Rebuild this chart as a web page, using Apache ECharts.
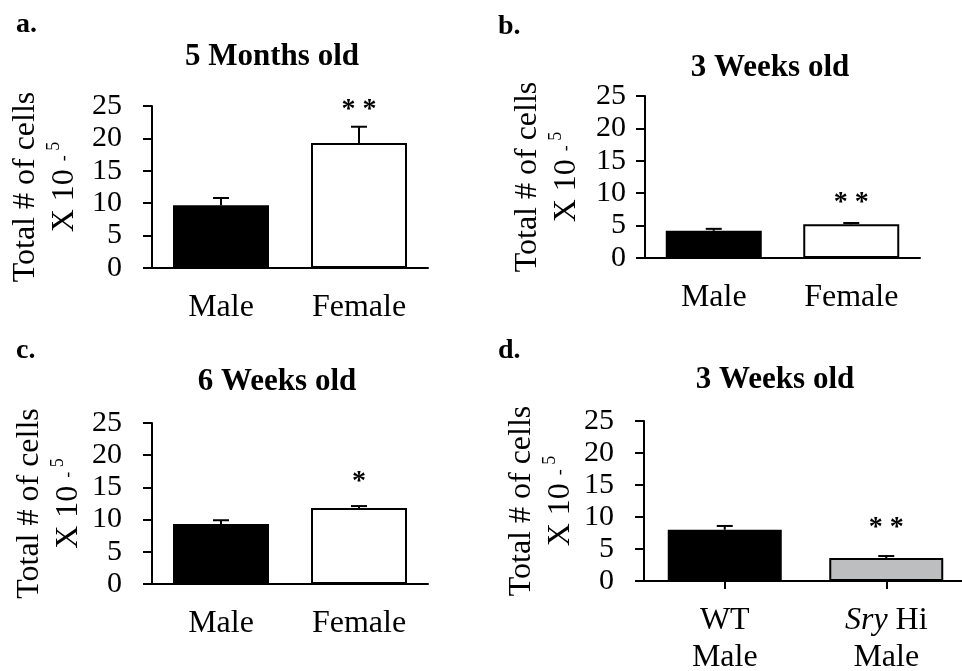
<!DOCTYPE html>
<html>
<head>
<meta charset="utf-8">
<script src="https://cdn.jsdelivr.net/npm/echarts@6/dist/echarts.min.js"></script>
<style>
  html, body { margin: 0; padding: 0; background: #fff; }
  #main { width: 962px; height: 671px; }
</style>
</head>
<body>
<div id="main"></div>
<script>
// panel data (cells x 10^-5)
const letters = ['a.', 'b.', 'c.', 'd.'];
const titles = ['5 Months old', '3 Weeks old', '6 Weeks old', '3 Weeks old'];
const catsSex = ['Male', 'Female'];
const catsSry = ['WT\nMale', 'Sry Hi\nMale'];
const yTicks = [0, 5, 10, 15, 20, 25];

const meanA = [9.7, 19.3];
const errA = [1.1, 2.5];
const sigA = ['', '* *'];

const meanB = [4.2, 5.2];
const errB = [0.3, 0.2];
const sigB = ['', '* *'];

const meanC = [9.3, 11.8];
const errC = [0.6, 0.3];
const sigC = ['', '*'];

const meanD = [8.0, 3.6];
const errD = [0.6, 0.3];
const sigD = ['', '* *'];

const FONT = 'Liberation Serif';
const chart = echarts.init(document.getElementById('main'), null, { renderer: 'canvas' });

// layout of each panel
const panels = [
  { cats: catsSex, mean: meanA, err: errA, sig: sigA, grid: { left: 152, top: 106, width: 276, height: 162 },
    fills: ['#000000', '#ffffff'], barWidth: 96, nameGap: 68, labelMargin: 30, ticks: false,
    title: [272, 41], letter: [16, 11], starGap: 3 },
  { cats: catsSex, mean: meanB, err: errB, sig: sigB, grid: { left: 645, top: 96, width: 275, height: 162 },
    fills: ['#000000', '#ffffff'], barWidth: 96, nameGap: 59, labelMargin: 19, ticks: false,
    title: [770, 52], letter: [498, 13], starGap: 6 },
  { cats: catsSex, mean: meanC, err: errC, sig: sigC, grid: { left: 152, top: 423, width: 276, height: 161 },
    fills: ['#000000', '#ffffff'], barWidth: 96, nameGap: 60, labelMargin: 30, ticks: false,
    title: [277, 366], letter: [16, 337], starGap: 10 },
  { cats: catsSry, mean: meanD, err: errD, sig: sigD, grid: { left: 644, top: 421, width: 323, height: 160 },
    fills: ['#000000', '#bcbec0'], barWidth: 114, nameGap: 54, labelMargin: 30, ticks: true,
    title: [775, 364], letter: [498, 337], starGap: 14 }
];

function errRenderer(sig, gap) {
  return function (params, api) {
    const i = api.value(0);
    const m = api.value(1);
    const e = api.value(2);
    const base = api.coord([i, m]);
    const top = api.coord([i, m + e]);
    const children = [
      { type: 'line', shape: { x1: base[0], y1: base[1], x2: top[0], y2: top[1] },
        style: { stroke: '#000', lineWidth: 2 } },
      { type: 'line', shape: { x1: top[0] - 8, y1: top[1], x2: top[0] + 8, y2: top[1] },
        style: { stroke: '#000', lineWidth: 2 } }
    ];
    if (sig[params.dataIndex]) {
      children.push({ type: 'text', x: top[0], y: top[1] - gap,
        style: { text: sig[params.dataIndex], fill: '#000', font: 'bold 28px ' + FONT,
          textAlign: 'center', textVerticalAlign: 'bottom' } });
    }
    return { type: 'group', children: children };
  };
}

const option = {
  backgroundColor: '#ffffff',
  animation: false,
  title: [],
  grid: [],
  xAxis: [],
  yAxis: [],
  series: []
};

panels.forEach((p, k) => {
  option.title.push({
    text: titles[k], left: p.title[0], top: p.title[1], textAlign: 'center', padding: 0,
    textStyle: { fontFamily: FONT, fontSize: 31, fontWeight: 'bold', color: '#000' }
  });
  option.title.push({
    text: letters[k], left: p.letter[0], top: p.letter[1], padding: 0,
    textStyle: { fontFamily: FONT, fontSize: 28, fontWeight: 'bold', color: '#000' }
  });
  option.grid.push(Object.assign({ outerBoundsMode: 'none', containLabel: false }, p.grid));
  option.xAxis.push({
    type: 'category', gridIndex: k, data: p.cats,
    axisLine: { lineStyle: { color: '#000', width: 2 } },
    axisTick: { show: p.ticks, alignWithLabel: true, length: 8, lineStyle: { color: '#000', width: 2 } },
    axisLabel: {
      color: '#000', fontFamily: FONT, fontSize: 32, margin: 21, lineHeight: 37, interval: 0,
      formatter: v => v.replace('Sry', '{i|Sry}'),
      rich: { i: { fontStyle: 'italic', fontFamily: FONT, fontSize: 32, color: '#000' } }
    },
    splitLine: { show: false }
  });
  option.yAxis.push({
    type: 'value', gridIndex: k, min: yTicks[0], max: yTicks[yTicks.length - 1], interval: 5,
    name: '{n|Total # of cells}\n{n|X 10 }{m|- }{s|5}',
    nameLocation: 'middle', nameRotate: 90, nameGap: p.nameGap,
    nameTextStyle: {
      color: '#000', fontFamily: FONT, fontSize: 32, lineHeight: 39,
      rich: {
        n: { fontFamily: FONT, fontSize: 32, color: '#000', lineHeight: 39 },
        m: { fontFamily: FONT, fontSize: 18, color: '#000' },
        s: { fontFamily: FONT, fontSize: 18, color: '#000', verticalAlign: 'top' }
      }
    },
    axisLine: { show: true, lineStyle: { color: '#000', width: 2 } },
    axisTick: { show: true, inside: false, length: 9, lineStyle: { color: '#000', width: 2 } },
    axisLabel: { color: '#000', fontFamily: FONT, fontSize: 30, margin: p.labelMargin },
    splitLine: { show: false }
  });
  option.series.push({
    type: 'bar', xAxisIndex: k, yAxisIndex: k, barWidth: p.barWidth,
    data: p.mean.map((v, i) => ({
      value: v,
      itemStyle: { color: p.fills[i], borderColor: '#000', borderWidth: 2 }
    })),
    emphasis: { disabled: true }
  });
  option.series.push({
    type: 'custom', xAxisIndex: k, yAxisIndex: k, z: 5,
    renderItem: errRenderer(p.sig, p.starGap),
    data: p.mean.map((v, i) => [i, v, p.err[i]])
  });
});

chart.setOption(option);
</script>
</body>
</html>
